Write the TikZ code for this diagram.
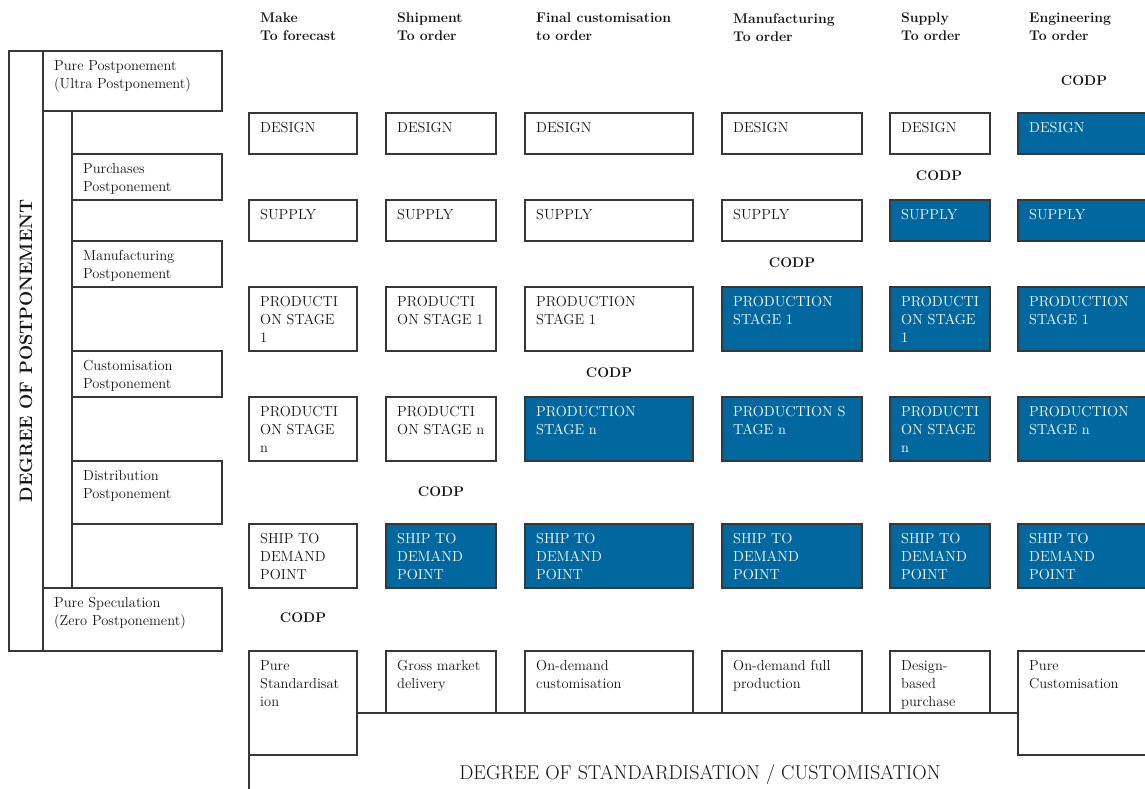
\documentclass[tikz,border=0pt]{standalone}
\usetikzlibrary{calc}
\definecolor{blueC}{RGB}{0,104,158}
\definecolor{linec}{RGB}{55,55,55}
\definecolor{txtc}{RGB}{20,20,20}
\tikzset{
  cellw/.style={draw=linec, fill=white, line width=1.2pt, inner sep=0pt, outer sep=0pt},
  cellb/.style={draw=linec, fill=blueC, line width=1.2pt, inner sep=0pt, outer sep=0pt},
  celltextw/.style={font=\fontsize{14.5}{18}\selectfont, align=left, inner sep=0pt, text=txtc},
  celltextb/.style={font=\fontsize{14.5}{18}\selectfont, align=left, inner sep=0pt, text=white},
  hdr/.style={font=\fontsize{14}{18}\selectfont\bfseries, align=left, inner sep=0pt, anchor=north west, text=txtc},
  codp/.style={font=\fontsize{14}{18}\selectfont\bfseries, inner sep=0pt, text=txtc},
  plain/.style={draw=linec, line width=1.2pt}
}
\newcommand\cellbox[7]{%
  \node[cell#6, minimum width={(#4-#2)*1pt}, minimum height={(#5-#3)*1pt}, anchor=north west] (#1) at (#2,#3) {};
  \node[celltext#6, anchor=north west] (#1t) at ([shift={(11pt,-9pt)}]#1.north west) {#7};
}
\begin{document}
\begin{tikzpicture}[x=1pt,y=-1pt]
\useasboundingbox (0,0) rectangle (1145,788);
\clip (0,0) rectangle (1145,788);
\fill[white] (0,0) rectangle (1145,788);

% headers
\node[hdr] (h1) at (260,13) {Make\\To forecast};
\node[hdr] (h2) at (397,13) {Shipment\\To order};
\node[hdr] (h3) at (536,13) {Final customisation\\to order};
\node[hdr] (h4) at (733,13) {Manufacturing\\To order};
\node[hdr] (h5) at (901,13) {Supply\\To order};
\node[hdr] (h6) at (1029,13) {Engineering\\To order};

% DESIGN row
\cellbox{d1}{249}{113}{357}{154}{w}{DESIGN}
\cellbox{d2}{386}{113}{496}{154}{w}{DESIGN}
\cellbox{d3}{525}{113}{693}{154}{w}{DESIGN}
\cellbox{d4}{722}{113}{862}{154}{w}{DESIGN}
\cellbox{d5}{890}{113}{990}{154}{w}{DESIGN}
\cellbox{d6}{1018}{113}{1152}{154}{b}{DESIGN}

% SUPPLY row
\cellbox{s1}{249}{200}{357}{241}{w}{SUPPLY}
\cellbox{s2}{386}{200}{496}{241}{w}{SUPPLY}
\cellbox{s3}{525}{200}{693}{241}{w}{SUPPLY}
\cellbox{s4}{722}{200}{862}{241}{w}{SUPPLY}
\cellbox{s5}{890}{200}{990}{241}{b}{SUPPLY}
\cellbox{s6}{1018}{200}{1152}{241}{b}{SUPPLY}

% PRODUCTION STAGE 1 row
\cellbox{p1}{249}{287}{357}{351}{w}{PRODUCTI\\ON STAGE\\1}
\cellbox{p2}{386}{287}{496}{351}{w}{PRODUCTI\\ON STAGE 1}
\cellbox{p3}{525}{287}{693}{351}{w}{PRODUCTION\\STAGE 1}
\cellbox{p4}{722}{287}{862}{351}{b}{PRODUCTION\\STAGE 1}
\cellbox{p5}{890}{287}{990}{351}{b}{PRODUCTI\\ON STAGE\\1}
\cellbox{p6}{1018}{287}{1152}{351}{b}{PRODUCTION\\STAGE 1}

% PRODUCTION STAGE n row
\cellbox{q1}{249}{397}{357}{461}{w}{PRODUCTI\\ON STAGE\\n}
\cellbox{q2}{386}{397}{496}{461}{w}{PRODUCTI\\ON STAGE n}
\cellbox{q3}{525}{397}{693}{461}{b}{PRODUCTION\\STAGE n}
\cellbox{q4}{722}{397}{862}{461}{b}{PRODUCTION S\\TAGE n}
\cellbox{q5}{890}{397}{990}{461}{b}{PRODUCTI\\ON STAGE\\n}
\cellbox{q6}{1018}{397}{1152}{461}{b}{PRODUCTION\\STAGE n}

% SHIP row
\cellbox{t1}{249}{524}{357}{588}{w}{SHIP TO\\DEMAND\\POINT}
\cellbox{t2}{386}{524}{496}{588}{b}{SHIP TO\\DEMAND\\POINT}
\cellbox{t3}{525}{524}{693}{588}{b}{SHIP TO\\DEMAND\\POINT}
\cellbox{t4}{722}{524}{862}{588}{b}{SHIP TO\\DEMAND\\POINT}
\cellbox{t5}{890}{524}{990}{588}{b}{SHIP TO\\DEMAND\\POINT}
\cellbox{t6}{1018}{524}{1152}{588}{b}{SHIP TO\\DEMAND\\POINT}

% CODP labels
\node[codp] (c6) at (1084,81) {CODP};
\node[codp] (c5) at (939,176) {CODP};
\node[codp] (c4) at (792,263) {CODP};
\node[codp] (c3) at (609,373) {CODP};
\node[codp] (c2) at (441,492) {CODP};
\node[codp] (c1) at (303,618) {CODP};

% bottom strip
\draw[plain] (249,755) -- (249,800);
\cellbox{b1}{249}{651}{357}{755}{w}{Pure\\Standardisat\\ion}
\cellbox{b2}{386}{651}{496}{713}{w}{Gross market\\delivery}
\cellbox{b3}{525}{651}{693}{713}{w}{On-demand\\customisation}
\cellbox{b4}{722}{651}{862}{713}{w}{On-demand full\\production}
\cellbox{b5}{890}{651}{990}{713}{w}{Design-\\based\\purchase}
\cellbox{b6}{1018}{651}{1152}{755}{w}{Pure\\Customisation}
\draw[plain] (b1.east |- b2.south) -- (b6.west |- b2.south);
\node[font=\fontsize{20}{24}\selectfont, text=txtc, inner sep=0pt] (std) at (700,774) {DEGREE OF STANDARDISATION / CUSTOMISATION};

% left panel
\node[cellw, minimum width=34pt, minimum height=600pt, anchor=north west] (lp) at (9,51) {};
\node[font=\fontsize{18}{22}\selectfont\bfseries, text=txtc, rotate=90, inner sep=0pt] (lpt) at (lp.center) {DEGREE OF POSTPONEMENT};
\cellbox{pp}{43}{51}{222}{111}{w}{Pure Postponement\\(Ultra Postponement)}
\cellbox{pb}{72}{154}{222}{200}{w}{Purchases\\Postponement}
\cellbox{pm}{72}{241}{222}{287}{w}{Manufacturing\\Postponement}
\cellbox{pc}{72}{351}{222}{397}{w}{Customisation\\Postponement}
\cellbox{pd}{72}{461}{222}{524}{w}{Distribution\\Postponement}
\cellbox{ps}{43}{588}{222}{651}{w}{Pure Speculation\\(Zero Postponement)}
\draw[plain] (pb.west |- pp.south) -- (pb.west |- ps.north);
\end{tikzpicture}
\end{document}
